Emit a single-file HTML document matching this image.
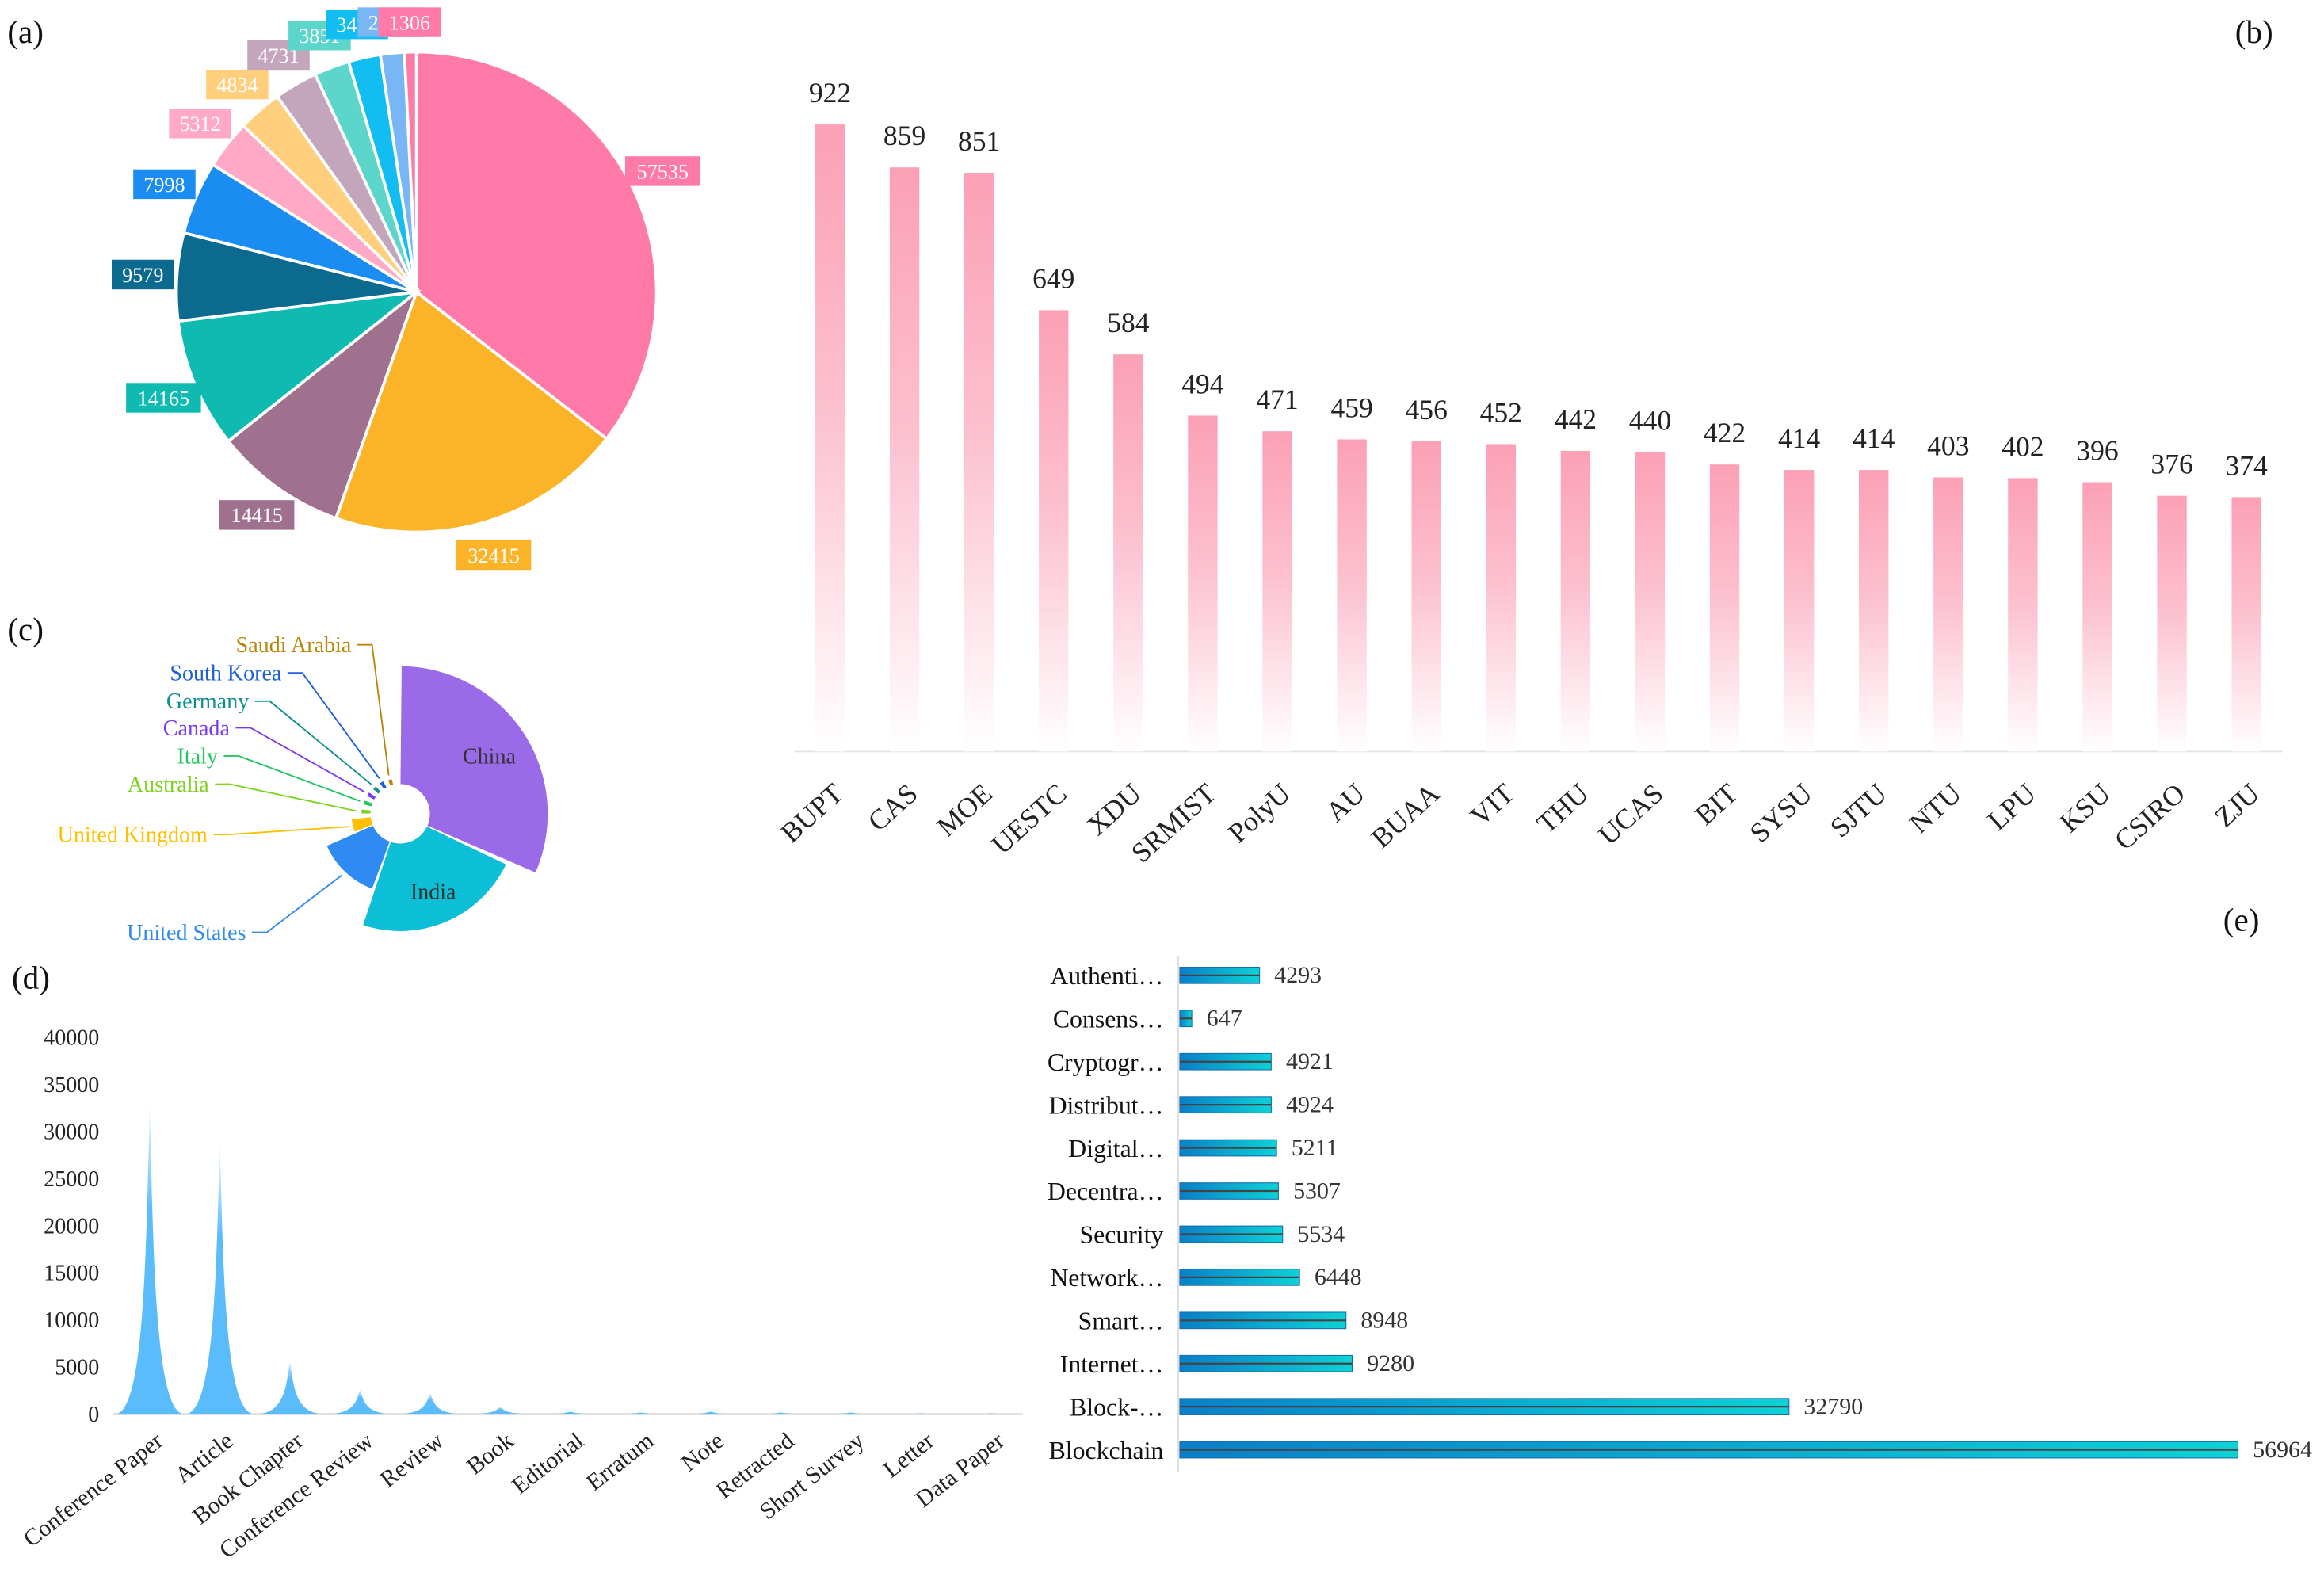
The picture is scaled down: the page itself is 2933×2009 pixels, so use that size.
<!DOCTYPE html>
<html><head><meta charset="utf-8"><style>
html,body{margin:0;padding:0;background:#fff;}
svg{display:block;font-family:"Liberation Serif",serif;}
</style></head><body>
<svg id="fig" xmlns="http://www.w3.org/2000/svg" width="2933" height="2009" viewBox="0 0 1568 1074" preserveAspectRatio="none">
<defs>
<linearGradient id="gb" x1="0" y1="0" x2="0" y2="1"><stop offset="0" stop-color="#fca0b6"/><stop offset="0.45" stop-color="#fcc0cf"/><stop offset="1" stop-color="#ffffff"/></linearGradient>
<linearGradient id="gd" x1="0" y1="0" x2="0" y2="1"><stop offset="0" stop-color="#ffffff"/><stop offset="0.35" stop-color="#5bbcfc"/><stop offset="1" stop-color="#5bbcfc"/></linearGradient>
<linearGradient id="ge" x1="0" y1="0" x2="1" y2="0"><stop offset="0" stop-color="#0a7fc8"/><stop offset="1" stop-color="#0cd2d6"/></linearGradient>
</defs>
<g font-size="22" fill="#111">
<text x="5" y="29">(a)</text>
<text x="1508" y="29">(b)</text>
<text x="5" y="432">(c)</text>
<text x="8" y="667">(d)</text>
<text x="1500" y="628">(e)</text>
</g>
<g id="pieA"></g>
<g id="roseC"></g>
<g id="barB"></g>
<g id="spikeD"></g>
<g id="barE"></g>
</svg>
<script>
// ---- (a) pie data
const pieValues=[57535,32415,14415,14165,9579,7998,5312,4834,4731,3851,3490,2600,1306];
const pieColors=["#ff7aa8","#fbb328","#a0718f","#0fbab0","#0b6a8e","#1a8cf2","#ffa9c6","#ffcf7e","#c3a6bc","#5cd5cb","#12bdf2","#79b6f6","#ff7aa8"];
// ---- (b) bar data
const bCats=["BUPT","CAS","MOE","UESTC","XDU","SRMIST","PolyU","AU","BUAA","VIT","THU","UCAS","BIT","SYSU","SJTU","NTU","LPU","KSU","CSIRO","ZJU"];
const bVals=[922,859,851,649,584,494,471,459,456,452,442,440,422,414,414,403,402,396,376,374];
// ---- (c) rose data
const cCats=["China","India","United States","United Kingdom","Australia","Italy","Canada","Germany","South Korea","Saudi Arabia"];
const cVals=[114,84,47,16,6,5,5,4,4,3];
const cColors=["#9a6ae8","#0dbfd6","#2f8af2","#ffc000","#7ed321","#22c55e","#7c3aed","#0f8f8f","#1d5fd6","#b8860b"];
// ---- (d) spike data
const dCats=["Conference Paper","Article","Book Chapter","Conference Review","Review","Book","Editorial","Erratum","Note","Retracted","Short Survey","Letter","Data Paper"];
const dVals=[33400,29300,5800,2700,2300,800,300,200,300,200,200,100,100];
const dTicks=[0,5000,10000,15000,20000,25000,30000,35000,40000];
// ---- (e) horizontal bar data
const eCats=["Authenti…","Consens…","Cryptogr…","Distribut…","Digital…","Decentra…","Security","Network…","Smart…","Internet…","Block-…","Blockchain"];
const eVals=[4293,647,4921,4924,5211,5307,5534,6448,8948,9280,32790,56964];

const NS="http://www.w3.org/2000/svg";
function mk(parent,tag,attrs,txt){const e=document.createElementNS(NS,tag);for(const k in attrs)e.setAttribute(k,attrs[k]);if(txt!==undefined)e.textContent=txt;parent.appendChild(e);return e;}
function pt(cx,cy,r,a){return [cx+r*Math.sin(a),cy-r*Math.cos(a)];}

// (a) pie
(function(){
 const g=document.getElementById('pieA');const cx=281,cy=197,R=162;
 const tot=pieValues.reduce((a,b)=>a+b,0);let a0=0;
 pieValues.forEach((v,i)=>{
  const a1=a0+v/tot*2*Math.PI;
  const p0=pt(cx,cy,R,a0),p1=pt(cx,cy,R,a1);
  const s=mk(g,'path',{d:`M${cx},${cy}L${p0[0]},${p0[1]}A${R},${R} 0 ${a1-a0>Math.PI?1:0} 1 ${p1[0]},${p1[1]}Z`,fill:pieColors[i],stroke:'#fff','stroke-width':2});
  
  
  const am=(a0+a1)/2;let lp=pt(cx,cy,185,am);
  if(lp[1]<15)lp[1]=15;
  const w=String(v).length*8.5+8;
  const lg=mk(g,'g',{});
  
  
  const x0=lp[0]-w/2;
  mk(lg,'rect',{x:x0,y:lp[1]-10,width:w,height:20,fill:pieColors[i]});
  mk(lg,'text',{x:x0+w/2,y:lp[1]+5,'text-anchor':'middle','font-size':14,fill:'#fff'},String(v));
  a0=a1;
 });
})();

// (b) bars
(function(){
 const g=document.getElementById('barB');const base=507,k=423/922,x0=560,dx=50.3,bw=20;
 const ax=mk(g,'line',{x1:536,y1:base,x2:1540,y2:base,stroke:'#e3e3e3','stroke-width':1});
 
 
 bVals.forEach((v,i)=>{
  const x=x0+i*dx,h=v*k;
  const r=mk(g,'rect',{x:x-bw/2,y:base-h,width:bw,height:h,fill:'url(#gb)'});
  
  
  const t=mk(g,'text',{x:x,y:base-h-15,'text-anchor':'middle','font-size':19,fill:'#222'},String(v));
  
  
  const l=mk(g,'text',{x:0,y:0,'text-anchor':'end','font-size':19,fill:'#222',transform:`translate(${x+10},${base+30}) rotate(-42)`},bCats[i]);
  
  
 });
})();

// (c) rose
(function(){
 const g=document.getElementById('roseC');const cx=270,cy=549,r0=20;
 const D=Math.PI/180;
 let a0=0;
 const labelPos=[null,null,[166,634],[140,568],[141,534],[147,515],[155,496],[168,478],[190,459],[237,440]];
 cVals.forEach((v,i)=>{
  const span=Math.max(v,7)*D;
  const a1=a0+span;const R=22+0.68*v;const gap=0.01;
  const s0=a0+gap,s1=a1-gap;
  const p0=pt(cx,cy,r0,s0),p1=pt(cx,cy,R,s0),p2=pt(cx,cy,R,s1),p3=pt(cx,cy,r0,s1);
  const s=mk(g,'path',{d:`M${p0[0]},${p0[1]}L${p1[0]},${p1[1]}A${R},${R} 0 0 1 ${p2[0]},${p2[1]}L${p3[0]},${p3[1]}A${r0},${r0} 0 0 0 ${p0[0]},${p0[1]}Z`,fill:cColors[i]});
  
  
  const am=(a0+a1)/2;
  if(i<2){
   const lp=pt(cx,cy,R*0.72,am);
   const t=mk(g,'text',{x:lp[0],y:lp[1]+5,'text-anchor':'middle','font-size':15,fill:'#333'},cCats[i]);
   
   
  } else {
   const lp=labelPos[i];const e=pt(cx,cy,R+3,am);
   const mx=lp[0]+14;
   mk(g,'polyline',{points:`${lp[0]+4},${lp[1]-5} ${mx},${lp[1]-5} ${e[0]},${e[1]}`,fill:'none',stroke:cColors[i],'stroke-width':1});
   const t=mk(g,'text',{x:lp[0],y:lp[1],'text-anchor':'end','font-size':15,fill:cColors[i]},cCats[i]);
   
   
  }
  a0=a1+(i<3?1*D:(i===3?6*D:7*D));
 });
 mk(g,'circle',{cx:cx,cy:cy,r:r0,fill:'#fff'});
})();

// (d) spikes
(function(){
 const g=document.getElementById('spikeD');const base=954,k=254/40000,x0=101,dx=47.3,w=47;
 dTicks.forEach(t=>{
  const y=base-t*k;
  const e=mk(g,'text',{x:67,y:y+5,'text-anchor':'end','font-size':15,fill:'#222'},String(t));
  
  
 });
 const ax=mk(g,'line',{x1:76,y1:base,x2:690,y2:base,stroke:'#ddd','stroke-width':1.5});
 
 
 dVals.forEach((v,i)=>{
  const x=x0+i*dx,h=v*k,top=base-h;
  const p=mk(g,'path',{d:`M${x-w/2},${base} C${x-w*0.08},${base} ${x-w*0.05},${base-h*0.5} ${x},${top} C${x+w*0.05},${base-h*0.5} ${x+w*0.08},${base} ${x+w/2},${base}Z`,fill:'url(#gd)'});
  
  
  const l=mk(g,'text',{x:0,y:0,'text-anchor':'end','font-size':16,fill:'#222',transform:`translate(${x+10},${base+20}) rotate(-38)`},dCats[i]);
  
  
 });
})();

// (e) horizontal bars
(function(){
 const g=document.getElementById('barE');const x0=796,k=714/56964,y0=658,dy=29.1,bh=11;
 const ax=mk(g,'line',{x1:795,y1:645,x2:795,y2:993,stroke:'#ddd','stroke-width':1});
 
 
 eVals.forEach((v,i)=>{
  const y=y0+i*dy,w=v*k;
  const bg=mk(g,'g',{});
  
  
  mk(bg,'rect',{x:x0,y:y-bh/2,width:w,height:bh,fill:'url(#ge)',stroke:'#1a6fb0','stroke-width':0.6});
  mk(bg,'line',{x1:x0,y1:y,x2:x0+w,y2:y,stroke:'#444','stroke-width':1.2});
  const t=mk(g,'text',{x:x0+w+10,y:y+5,'font-size':16,fill:'#333'},String(v));
  
  
  const l=mk(g,'text',{x:785,y:y+6,'text-anchor':'end','font-size':17,fill:'#111'},eCats[i]);
  
  
 });
})();
</script>
</body></html>
